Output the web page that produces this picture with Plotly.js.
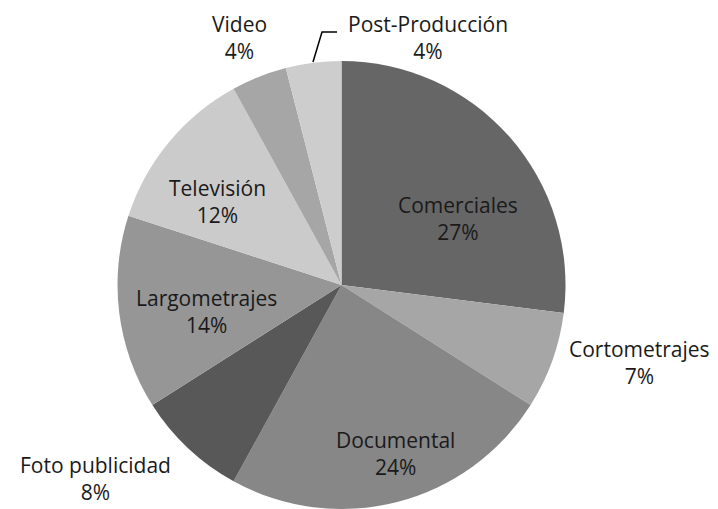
<!DOCTYPE html>
<html>
<head>
<meta charset="utf-8">
<script src="https://cdn.plot.ly/plotly-3.0.1.min.js"></script>
<style>html,body{margin:0;padding:0;background:#fff;}#chart{width:718px;height:509px;}</style>
</head>
<body>
<div id="chart"></div>
<script>
// Data (clockwise from 12 o'clock)
const labels = ["Comerciales", "Cortometrajes", "Documental", "Foto publicidad", "Largometrajes", "Televisión", "Video", "Post-Producción"];
const values = [27, 7, 24, 8, 14, 12, 4, 4];
const colors = ["#666666", "#a6a6a6", "#878787", "#585858", "#969696", "#cbcbcb", "#a6a6a6", "#cdcdcd"];

// Label placement (pixel centers of each label block), layout only
const W = 718, H = 509;
const labelPos = [
  [458, 218], [639, 362], [395, 453], [95, 478],
  [206, 311], [217, 201], [239, 38], [428, 38]
];

const total = values.reduce((a, b) => a + b, 0);
const annotations = labels.map((lab, i) => ({
  xref: "paper", yref: "paper",
  x: labelPos[i][0] / W, y: 1 - labelPos[i][1] / H,
  xanchor: "center", yanchor: "middle",
  text: lab + "<br>" + Math.round(values[i] / total * 100) + "%",
  showarrow: false,
  align: "center",
  font: {family: "Open Sans, sans-serif", size: 21, color: "#1a1a1a"}
}));

const cx = 341.5, cy = 285, r = 224;
const trace = {
  type: "pie",
  labels: labels,
  values: values,
  sort: false,
  direction: "clockwise",
  rotation: 0,
  marker: {colors: colors, line: {width: 0}},
  textinfo: "none",
  hoverinfo: "label+percent",
  showlegend: false,
  domain: {x: [(cx - r) / W, (cx + r) / W], y: [(H - cy - r) / H, (H - cy + r) / H]}
};

const layout = {
  width: W, height: H,
  margin: {l: 0, r: 0, t: 0, b: 0},
  paper_bgcolor: "#ffffff",
  showlegend: false,
  annotations: annotations,
  shapes: [{
    type: "path", xref: "paper", yref: "paper",
    path: "M " + (313 / W) + " " + (1 - 62 / H) + " L " + (322 / W) + " " + (1 - 32 / H) + " L " + (337 / W) + " " + (1 - 32 / H),
    line: {color: "#000000", width: 1.5}
  }]
};

Plotly.newPlot("chart", [trace], layout, {displayModeBar: false, staticPlot: true});
</script>
</body>
</html>
